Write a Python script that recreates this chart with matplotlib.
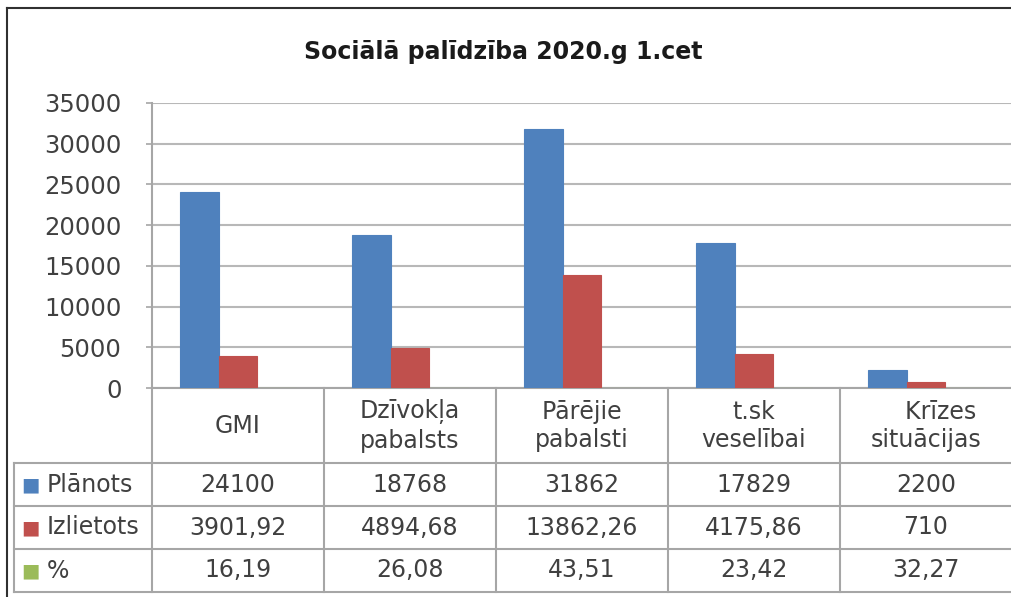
import matplotlib.pyplot as plt
import matplotlib.transforms as mtransforms
import numpy as np

plt.rcParams['font.family'] = ['DejaVu Sans']

categories = ["GMI", "Dzīvokļa\npabalsts", "Pārējie\npabalsti", "t.sk\nveselībai", "    Krīzes\nsituācijas"]
planots = [24100, 18768, 31862, 17829, 2200]
izlietots = [3901.92, 4894.68, 13862.26, 4175.86, 710]
procenti = [16.19, 26.08, 43.51, 23.42, 32.27]

row_names = ["Plānots", "Izlietots", "%"]
row_text = [
    ["24100", "18768", "31862", "17829", "2200"],
    ["3901,92", "4894,68", "13862,26", "4175,86", "710"],
    ["16,19", "26,08", "43,51", "23,42", "32,27"],
]
colors = ["#4F81BD", "#C0504D", "#9BBB59"]

W, H = 1012, 597
fig = plt.figure(figsize=(W / 100, H / 100), dpi=100)
fig.patch.set_facecolor("white")

ax = fig.add_axes([152 / W, 1 - 388 / H, 860 / W, 285 / H])
x = np.arange(len(categories))
bw = 0.225
for i, vals in enumerate([planots, izlietots, procenti]):
    ax.bar(x + (i - 1) * bw, vals, bw, color=colors[i], edgecolor=colors[i],
           linewidth=0.8, zorder=3)

ax.set_xlim(-0.5, len(categories) - 0.5)
ax.set_ylim(0, 35000)
ax.set_yticks(range(0, 35001, 5000))
ax.set_xticks([])
ax.grid(axis="y", color="#b8b8b8", linewidth=1.5, zorder=0)
for s in ["top", "right", "bottom"]:
    ax.spines[s].set_visible(False)
ax.spines["left"].set_color("#a6a6a6")
ax.spines["left"].set_linewidth(1.5)
ax.tick_params(axis="y", labelsize=17.5, colors="#a6a6a6", labelcolor="#404040",
               length=4, width=1.2, pad=18)

fig.text(503 / W, 1 - 52 / H, "Sociālā palīdzība 2020.g 1.cet", ha="center",
         va="center", fontsize=17, fontweight="bold", color="#1a1a1a")

# data table below the plot
tr = mtransforms.blended_transform_factory(ax.transData, fig.transFigure)
line_kw = dict(color="#a6a6a6", linewidth=1.5, transform=tr, clip_on=False)
fy = lambda py: 1 - py / H
x_left = -0.5 - (152 - 14) / 172
rows_y = [463, 506, 549, 592]

ax.plot([-0.5, 4.5], [fy(388), fy(388)], **line_kw)
for ry in rows_y:
    ax.plot([x_left, 4.5], [fy(ry), fy(ry)], **line_kw)
for bx in np.arange(-0.5, 4.0, 1.0):
    ax.plot([bx, bx], [fy(388), fy(592)], **line_kw)
ax.plot([x_left, x_left], [fy(463), fy(592)], **line_kw)

for j, cat in enumerate(categories):
    ax.text(j, fy(426), cat, transform=tr, ha="center", va="center",
            fontsize=17, color="#404040", linespacing=1.25, multialignment="center")

for r in range(3):
    yc = fy((rows_y[r] + rows_y[r + 1]) / 2)
    ax.text(x_left + 0.045, yc, "\u25A0", transform=tr, ha="left", va="center",
            fontsize=14, color=colors[r])
    ax.text(x_left + 0.19, yc, row_names[r], transform=tr, ha="left", va="center",
            fontsize=17, color="#404040")
    for j in range(len(categories)):
        ax.text(j, yc, row_text[r][j], transform=tr, ha="center", va="center",
                fontsize=17, color="#404040")

# outer chart frame
fig.add_artist(plt.Line2D([7 / W, 7 / W], [0, 1 - 8 / H], color="#303030",
                          linewidth=1.5, transform=fig.transFigure))
fig.add_artist(plt.Line2D([7 / W, 1], [1 - 8 / H, 1 - 8 / H], color="#303030",
                          linewidth=1.5, transform=fig.transFigure))

fig.savefig("out.png", dpi=100)
